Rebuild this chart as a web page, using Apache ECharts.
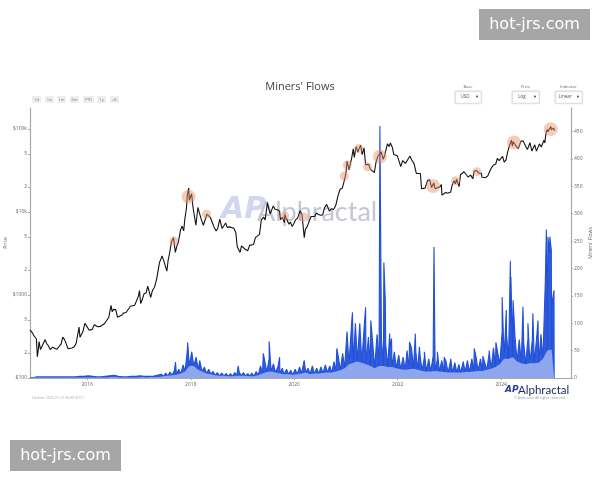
<!DOCTYPE html>
<html><head><meta charset="utf-8">
<script src="https://cdn.jsdelivr.net/npm/echarts@6/dist/echarts.min.js"></script>
<style>html,body{margin:0;padding:0;background:#fff}#c{width:600px;height:480px}</style>
</head><body><div id="c"></div>
<script>
// ---------- DATA ----------
const xTickYears = [2016, 2018, 2020, 2022, 2024];
const priceTickValues = [100, 200, 500, 1000, 2000, 5000, 10000, 20000, 50000, 100000];
const flowTickValues = [0, 50, 100, 150, 200, 250, 300, 350, 400, 450];

const priceData = [
['2014-11-23',380],['2014-12-01',378],['2014-12-10',350],['2014-12-20',325],['2014-12-31',318],
['2015-01-07',295],['2015-01-14',180],['2015-01-20',215],['2015-01-26',275],['2015-02-05',220],['2015-02-15',240],['2015-02-25',238],['2015-03-10',290],['2015-03-20',260],['2015-04-01',245],['2015-04-15',220],['2015-05-01',235],['2015-05-15',237],['2015-06-01',222],['2015-06-15',232],['2015-07-01',258],['2015-07-12',310],['2015-07-25',290],['2015-08-05',280],['2015-08-19',225],['2015-09-01',228],['2015-09-15',230],['2015-10-01',237],['2015-10-15',262],['2015-11-04',410],['2015-11-11',310],['2015-11-20',325],['2015-12-01',360],['2015-12-15',455],['2015-12-25',430],
['2016-01-05',432],['2016-01-15',375],['2016-01-25',395],['2016-02-05',385],['2016-02-20',438],['2016-03-01',430],['2016-03-15',415],['2016-04-01',417],['2016-04-15',428],['2016-05-01',450],['2016-05-15',455],['2016-06-01',535],['2016-06-17',750],['2016-06-25',630],['2016-07-05',670],['2016-07-20',665],['2016-08-02',540],['2016-08-15',570],['2016-09-01',573],['2016-09-15',608],['2016-10-01',615],['2016-10-15',640],['2016-11-01',730],['2016-11-15',712],['2016-12-01',752],['2016-12-15',778],['2016-12-28',975],
['2017-01-04',1130],['2017-01-12',790],['2017-01-25',895],['2017-02-05',1030],['2017-02-20',1060],['2017-03-03',1275],['2017-03-15',1240],['2017-03-24',935],['2017-04-05',1130],['2017-04-20',1240],['2017-05-05',1550],['2017-05-25',2450],['2017-06-01',2400],['2017-06-12',2950],['2017-06-25',2550],['2017-07-05',2620],['2017-07-16',1930],['2017-07-25',2600],['2017-08-05',3220],['2017-08-17',4300],['2017-09-01',4900],['2017-09-14',3250],['2017-09-25',3900],['2017-10-05',4300],['2017-10-20',5980],['2017-11-01',6750],['2017-11-12',5900],['2017-11-20',8200],['2017-12-01',10900],['2017-12-08',16000],['2017-12-17',19300],['2017-12-22',13800],['2017-12-31',14100],
['2018-01-07',16500],['2018-01-17',11200],['2018-01-28',11700],['2018-02-06',6900],['2018-02-20',11300],['2018-03-05',11500],['2018-03-18',7900],['2018-03-31',6900],['2018-04-06',6600],['2018-04-25',9400],['2018-05-05',9800],['2018-05-20',8500],['2018-06-01',7500],['2018-06-15',6500],['2018-06-29',5900],['2018-07-10',6300],['2018-07-25',8200],['2018-08-10',6300],['2018-08-20',6300],['2018-09-04',7350],['2018-09-15',6500],['2018-10-01',6600],['2018-10-15',6600],['2018-11-01',6350],['2018-11-15',5600],['2018-11-25',3800],['2018-12-05',3800],['2018-12-15',3250],['2018-12-25',3900],
['2019-01-08',4050],['2019-01-20',3550],['2019-02-07',3400],['2019-02-20',3950],['2019-03-05',3750],['2019-03-20',4050],['2019-04-02',4900],['2019-04-15',5050],['2019-05-01',5350],['2019-05-14',8000],['2019-05-30',8650],['2019-06-10',8000],['2019-06-26',12900],['2019-07-05',11000],['2019-07-16',9450],['2019-07-30',9500],['2019-08-06',11800],['2019-08-20',10700],['2019-09-05',10600],['2019-09-20',10200],['2019-09-26',8050],['2019-10-10',8600],['2019-10-24',7450],['2019-10-26',9250],['2019-11-08',8800],['2019-11-25',7100],['2019-12-05',7550],['2019-12-18',6650],['2019-12-30',7250],
['2020-01-10',8000],['2020-01-25',8400],['2020-02-12',10350],['2020-02-25',9300],['2020-03-07',8900],['2020-03-12',4900],['2020-03-20',6200],['2020-04-01',6600],['2020-04-15',6650],['2020-04-29',8800],['2020-05-10',8600],['2020-05-25',8800],['2020-06-05',9700],['2020-06-20',9300],['2020-07-05',9100],['2020-07-20',9200],['2020-08-02',11200],['2020-08-17',12300],['2020-09-05',10200],['2020-09-20',10900],['2020-10-05',10700],['2020-10-20',11900],['2020-11-05',15600],['2020-11-20',18700],['2020-12-05',19200],['2020-12-17',22800],['2020-12-31',29000],
['2021-01-08',40700],['2021-01-22',32000],['2021-02-01',33500],['2021-02-10',44800],['2021-02-21',57500],['2021-02-28',45200],['2021-03-13',61000],['2021-03-25',52500],['2021-04-05',58900],['2021-04-14',63500],['2021-04-25',49000],['2021-05-08',58900],['2021-05-19',37000],['2021-05-30',35700],['2021-06-10',37300],['2021-06-22',32500],['2021-07-01',33500],['2021-07-20',29800],['2021-08-01',39900],['2021-08-15',47000],['2021-09-06',52700],['2021-09-20',43000],['2021-10-01',48100],['2021-10-20',65900],['2021-11-01',61300],['2021-11-10',67500],['2021-11-25',58900],['2021-12-04',49000],['2021-12-15',48900],['2021-12-28',47500],
['2022-01-05',43500],['2022-01-22',35000],['2022-02-05',41500],['2022-02-24',38300],['2022-03-10',39000],['2022-03-28',47100],['2022-04-10',42200],['2022-04-26',38100],['2022-05-05',36500],['2022-05-12',29000],['2022-05-25',29600],['2022-06-10',29000],['2022-06-18',19000],['2022-06-30',19800],['2022-07-13',19300],['2022-07-30',23800],['2022-08-14',24400],['2022-08-28',19600],['2022-09-12',22300],['2022-09-22',19000],['2022-10-08',19500],['2022-10-25',20000],['2022-11-05',21300],['2022-11-09',15900],['2022-11-21',15800],['2022-12-05',17100],['2022-12-20',16800],['2022-12-30',16500],
['2023-01-10',17400],['2023-01-20',21000],['2023-02-02',23700],['2023-02-12',21800],['2023-02-20',24700],['2023-03-10',20100],['2023-03-20',28000],['2023-04-01',28400],['2023-04-14',30400],['2023-04-27',29500],['2023-05-12',26300],['2023-05-30',27700],['2023-06-15',25000],['2023-06-23',30700],['2023-07-13',31400],['2023-07-28',29300],['2023-08-15',29200],['2023-08-18',26100],['2023-09-01',25900],['2023-09-12',25800],['2023-09-28',27000],['2023-10-10',27400],['2023-10-24',33900],['2023-11-09',36700],['2023-11-24',37700],['2023-12-05',44000],['2023-12-18',41300],['2023-12-30',42100],
['2024-01-11',46600],['2024-01-23',39500],['2024-02-05',42600],['2024-02-15',52000],['2024-02-28',62400],['2024-03-05',63800],['2024-03-14',73000],['2024-03-20',62000],['2024-03-27',70000],['2024-04-08',71600],['2024-04-17',61300],['2024-05-01',57800],['2024-05-20',71400],['2024-06-05',71100],['2024-06-24',60300],['2024-07-05',56600],['2024-07-22',68000],['2024-08-05',54000],['2024-08-25',64200],['2024-09-06',53900],['2024-09-27',65800],['2024-10-10',60300],['2024-10-29',72700],['2024-11-04',67800],['2024-11-13',90000],['2024-11-22',98500],['2024-11-26',91900],['2024-12-05',98800],['2024-12-10',96600],['2024-12-17',106100],['2024-12-20',97300],['2024-12-30',92600],['2025-01-06',102000],['2025-01-12',94700]
];

// Miners' flows: monthly high / low readings, Dec 2014 .. Jan 2025
const flowStartYear = 2014, flowStartMonth = 11; // December 2014 (0-based month)
const flowHigh = [
 2,
 2,2,2,2,2,2,2,2,2,2,3,3,
 4,3,2,2,3,4,5,3,2,2,3,3,
 4,3,3,3,5,7,9,11,14,16,24,52,
 48,38,28,20,16,12,10,9,8,8,10,12,
 10,8,9,12,22,30,35,26,20,18,16,14,
 16,20,28,18,22,18,20,24,22,30,38,45,
 85,95,100,100,90,75,65,80,70,62,55,48,
 42,38,50,55,50,40,38,35,40,35,32,30,
 30,28,25,30,32,35,38,35,40,45,55,65,
 85,80,95,75,70,65,72,70,75,80,180,230,
 160
];
const flowLow = [
 1,
 1,1,1,1,1,1,1,1,1,1,1,1,
 1,1,1,1,1,2,2,1,1,1,1,1,
 2,1,2,2,2,3,4,5,6,8,12,22,
 22,15,12,8,7,5,4,4,3,3,4,4,
 4,3,3,5,8,11,12,10,8,7,7,6,
 7,8,10,7,8,8,9,10,10,12,14,18,
 25,28,30,28,25,22,18,22,22,20,20,18,
 16,15,16,17,15,13,12,12,13,12,11,10,
 10,10,10,11,11,12,13,13,15,17,20,25,
 35,35,38,30,27,25,27,27,28,35,50,52,
 50
];
const flowSpikes = [
['2014-11-24',1],['2017-09-15',29],['2017-12-10',65],['2018-03-05',32],['2018-12-01',22],['2019-05-28',45],['2019-07-08',67],['2019-09-20',38],['2020-03-12',32],['2020-10-28',54],['2020-12-10',45],
['2021-02-15',120],['2021-05-19',129],['2021-06-25',105],['2021-08-28',460],['2021-09-25',211],['2021-10-05',142],['2021-11-05',81],['2021-11-18',72],
['2022-03-25',66],['2022-05-05',81],['2022-06-03',57],['2022-07-08',48],['2022-09-14',239],['2022-10-08',48],['2022-11-25',38],
['2023-01-10',35],['2023-03-10',25],['2023-06-25',54],['2023-08-25',40],['2023-10-08',50],['2023-11-25',65],
['2024-01-08',148],['2024-02-06',124],['2024-03-06',214],['2024-03-10',185],['2024-03-25',142],['2024-06-03',130],['2024-07-08',100],['2024-08-12',118],['2024-09-17',105],
['2024-11-15',271],['2024-11-26',258],['2024-12-10',258],['2024-12-20',233],['2024-12-28',142],['2025-01-09',0]
];

// Signal circles on the price line
const bigSignals = [['2017-12-17',15200],['2021-08-28',46300],['2022-09-08',20500],['2024-04-01',68300],['2024-12-16',99000]];
const smallSignals = [['2017-09-04',4470],['2018-04-22',9400],['2019-10-26',8960],['2020-03-08',8650],['2020-12-20',27000],['2021-01-10',36700],['2021-04-01',57800],['2021-06-01',35000],['2023-02-14',23700],['2023-07-15',30500]];

const rangeButtons = ['1d','1w','1m','6m','YTD','1y','all'];

// ---------- BUILD ----------
const ts = s => Date.parse(s + 'T00:00:00Z');
const flowEnd = ts('2025-01-09');
const zig = [];
const lows = [];
for (let i = 0; i < flowHigh.length; i++) {
  zig.push([Date.UTC(flowStartYear, flowStartMonth + i, 8), flowHigh[i]]);
  const lo = [Date.UTC(flowStartYear, flowStartMonth + i, 22), flowLow[i]];
  zig.push(lo);
  lows.push(lo);
}
flowSpikes.forEach(p => zig.push([ts(p[0]), p[1]]));
zig.sort((a, b) => a[0] - b[0]);
const flowData = zig.filter(p => p[0] <= flowEnd);
const lowData = [[ts('2014-11-24'), 1]].concat(lows.filter(p => p[0] <= flowEnd), [[flowEnd, 0]]);

const priceFmt = v => {
  const r = Math.round(v);
  if (r === 100) return '$100';
  if (r === 1000) return '$1000';
  if (r === 10000) return '$10k';
  if (r === 100000) return '$100k';
  return String(Math.round(r / Math.pow(10, Math.floor(Math.log10(r) + 1e-9))));
};

const F = 'Open Sans';
const axisGray = '#a8a8a8';
const lblGray = '#666';

const graphics = [];
const btnX = [32, 45, 57, 70, 83, 97, 110];
const btnW = [9, 9, 9, 9, 11, 9, 9];
rangeButtons.forEach((b, i) => {
  graphics.push({type:'rect', left:btnX[i], top:96, shape:{width:btnW[i], height:7}, style:{fill:'#eeeeee'}});
  graphics.push({type:'text', x:btnX[i] + btnW[i]/2, y:99.5, style:{text:b, fill:'#777', font:'4px '+F, align:'center', verticalAlign:'middle'}});
});
[['Base','USD',455,26],['Price','Log',512,27],['Indicator','Linear',555,27]].forEach(d => {
  graphics.push({type:'text', x:d[2]+d[3]/2, y:87, style:{text:d[0], fill:'#666', font:'4px '+F, align:'center', verticalAlign:'middle'}});
  graphics.push({type:'rect', left:d[2], top:91, shape:{width:d[3], height:12}, style:{fill:'#fff', stroke:'#dcdcdc', lineWidth:0.8, shadowBlur:2, shadowColor:'rgba(0,0,0,0.12)'}});
  graphics.push({type:'text', x:d[2]+10, y:97, style:{text:d[1], fill:'#555', font:'4.5px '+F, align:'center', verticalAlign:'middle'}});
  graphics.push({type:'text', x:d[2]+d[3]-4, y:96.5, style:{text:'▼', fill:'#333', font:'4px '+F, align:'center', verticalAlign:'middle'}});
});
graphics.push({type:'text', x:221, y:210, z:-1, style:{text:'AP', fill:'#d3d6ee', font:'italic bold 30px "DejaVu Sans"', verticalAlign:'middle'}});
graphics.push({type:'text', x:257, y:212, z:-1, style:{text:'Alphractal', fill:'#c4c6d2', font:'27px Lato', verticalAlign:'middle'}});
graphics.push({type:'text', x:32, y:398, style:{text:'Update: 2025-01-15 00:00 (UTC)', fill:'#aaa', font:'3.5px '+F, verticalAlign:'middle'}});
graphics.push({type:'text', x:505, y:390, style:{text:'AP', fill:'#2c3f9a', font:'italic bold 9px "DejaVu Sans"', verticalAlign:'middle'}});
graphics.push({type:'text', x:518, y:390, style:{text:'Alphractal', fill:'#1b2757', font:'11.5px Lato', verticalAlign:'middle'}});
graphics.push({type:'text', x:514, y:398, style:{text:'© Alphractal All rights reserved', fill:'#999', font:'3.5px '+F, verticalAlign:'middle'}});
[[479,9],[10,440]].forEach(p => {
  graphics.push({type:'rect', left:p[0], top:p[1], z:100, shape:{width:111, height:31}, style:{fill:'#a6a6a6'}});
  graphics.push({type:'text', x:p[0]+55.5, y:p[1]+15.5, z:101, style:{text:'hot-jrs.com', fill:'#fff', font:'16px "DejaVu Sans"', align:'center', verticalAlign:'middle'}});
});

const xYearTicks = xTickYears.map(y => Date.UTC(y,0,1));
const chart = echarts.init(document.getElementById('c'), null, {renderer:'canvas'});
chart.setOption({
  backgroundColor:'#fff',
  animation:false,
  textStyle:{fontFamily:F},
  title:{text:"Miners' Flows", left:'center', top:76, textStyle:{fontSize:11, fontWeight:'normal', color:'#444', fontFamily:F}},
  grid:{left:30, right:29, top:108, bottom:102, containLabel:false, outerBoundsMode:'none'},
  xAxis:{
    type:'value', min:ts('2014-11-23'), max:ts('2025-05-08'),
    axisLine:{show:true, lineStyle:{color:axisGray, width:1}},
    axisTick:{show:true, length:2, lineStyle:{color:axisGray}, customValues:xYearTicks},
    axisLabel:{fontSize:5, color:lblGray, margin:4, customValues:xYearTicks, formatter:v => String(new Date(v).getUTCFullYear())},
    splitLine:{show:false}
  },
  yAxis:[{
    type:'log', logBase:10, min:100, max:178000, position:'left',
    name:'Price', nameLocation:'middle', nameGap:22, nameRotate:90, nameMoveOverlap:false, nameTextStyle:{fontSize:5, color:lblGray},
    axisLine:{show:true, lineStyle:{color:axisGray, width:1.2}},
    axisTick:{show:true, length:2, lineStyle:{color:axisGray}, customValues:priceTickValues},
    axisLabel:{fontSize:5, color:lblGray, margin:3, customValues:priceTickValues, formatter:priceFmt},
    splitLine:{show:false}
  },{
    type:'value', min:0, max:493, position:'right',
    name:"Miners' Flows", nameLocation:'middle', nameGap:17, nameRotate:90, nameMoveOverlap:false, nameTextStyle:{fontSize:5, color:lblGray},
    axisLine:{show:true, lineStyle:{color:axisGray, width:1.2}},
    axisTick:{show:true, length:2, lineStyle:{color:axisGray}, customValues:flowTickValues},
    axisLabel:{fontSize:5, color:lblGray, margin:3, customValues:flowTickValues},
    splitLine:{show:false}
  }],
  series:[{
    name:"Miners' Flows", type:'line', yAxisIndex:1, data:flowData, symbol:'none', z:1,
    lineStyle:{color:'#2150d8', width:1.1},
    areaStyle:{color:'#2f5bdc', opacity:1}
  },{
    name:"Miners' Flows (low)", type:'line', yAxisIndex:1, data:lowData, symbol:'none', z:2,
    lineStyle:{width:0, opacity:0},
    areaStyle:{color:'#8ea6ee', opacity:1}
  },{
    name:'Price', type:'line', yAxisIndex:0, data:priceData.map(p => [ts(p[0]), p[1]]), symbol:'none', z:3,
    lineStyle:{color:'#111', width:1.1}
  },{
    name:'signals-big', type:'scatter', yAxisIndex:0, data:bigSignals.map(p => [ts(p[0]), p[1]]), symbolSize:14, z:4,
    itemStyle:{color:'rgba(232,145,105,0.58)'}
  },{
    name:'signals-small', type:'scatter', yAxisIndex:0, data:smallSignals.map(p => [ts(p[0]), p[1]]), symbolSize:9, z:4,
    itemStyle:{color:'rgba(232,145,105,0.58)'}
  }],
  graphic:graphics
});
</script></body></html>
